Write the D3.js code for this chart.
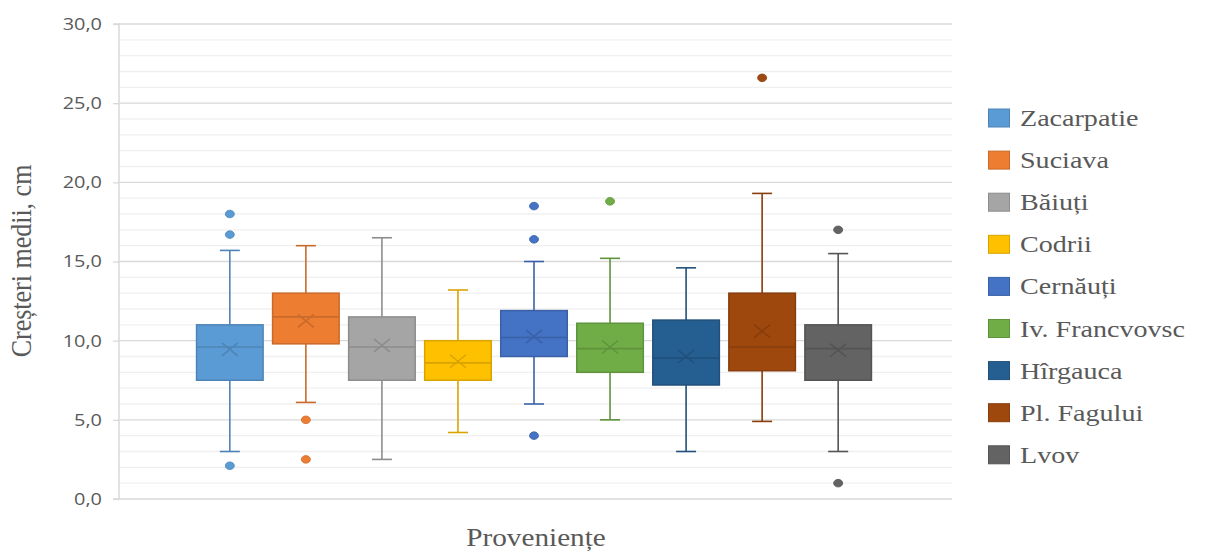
<!DOCTYPE html>
<html>
<head>
<meta charset="utf-8">
<script src="https://cdn.jsdelivr.net/npm/d3@7"></script>
<style>
  body { margin: 0; background: #fff; }
  svg { display: block; }
</style>
</head>
<body>
<div id="wrapper"></div>
<script>
// 1. Data
const series = ['Zacarpatie', 'Suciava', 'Băiuți', 'Codrii', 'Cernăuți',
    'Iv. Francvovsc', 'Hîrgauca', 'Pl. Fagului', 'Lvov'];
const colors = ['#5B9BD5', '#ED7D31', '#A5A5A5', '#FFC000', '#4472C4',
    '#70AD47', '#255E91', '#9E480E', '#636363'];
const whiskerLow = [3.0, 6.1, 2.5, 4.2, 6.0, 5.0, 3.0, 4.9, 3.0];
const q1 = [7.5, 9.8, 7.5, 7.5, 9.0, 8.0, 7.2, 8.1, 7.5];
const median = [9.6, 11.5, 9.6, 8.6, 10.2, 9.5, 8.9, 9.6, 9.5];
const q3 = [11.0, 13.0, 11.5, 10.0, 11.9, 11.1, 11.3, 13.0, 11.0];
const whiskerHigh = [15.7, 16.0, 16.5, 13.2, 15.0, 15.2, 14.6, 19.3, 15.5];
const mean = [9.45, 11.25, 9.7, 8.7, 10.25, 9.6, 9.0, 10.6, 9.4];
const outliers = [[18.0, 16.7, 2.1], [5.0, 2.5], [], [], [18.5, 16.4, 4.0],
    [18.8], [], [26.6], [17.0, 1.0]];
const yTicks = [0, 5, 10, 15, 20, 25, 30];

// 2. Dimensions
const dimensions = {
    width: 1212,
    height: 555,
    margin: { top: 24, right: 260, bottom: 56, left: 119 }
};
dimensions.boundedWidth = dimensions.width - dimensions.margin.left - dimensions.margin.right;
dimensions.boundedHeight = dimensions.height - dimensions.margin.top - dimensions.margin.bottom;
// the picture is a bit wider than tall, so text is stretched sideways
const stretch = 1.17;

// 3. Canvas
const wrapper = d3.select('#wrapper')
    .append('svg')
    .attr('width', dimensions.width)
    .attr('height', dimensions.height);
const bounds = wrapper.append('g')
    .attr('transform', `translate(${dimensions.margin.left},${dimensions.margin.top})`);

// 4. Scales
const yScale = d3.scaleLinear()
    .domain([0, 30])
    .range([dimensions.boundedHeight, 0]);
const xScale = d3.scaleBand()
    .domain(series)
    .range([73, 757])
    .paddingInner(0.105)
    .paddingOuter(0.05);
const colorScale = d3.scaleOrdinal().domain(series).range(colors);
const edge = s => d3.color(colorScale(s)).darker(0.45).formatHex();

// 5. Gridlines
bounds.append('g')
    .selectAll('line')
    .data(d3.range(1, 31).filter(v => v % 5 !== 0))
    .join('line')
    .attr('x1', 0).attr('x2', dimensions.boundedWidth)
    .attr('y1', d => yScale(d)).attr('y2', d => yScale(d))
    .attr('stroke', '#f0f0f0').attr('stroke-width', 1.3);
bounds.append('g')
    .selectAll('line')
    .data(yTicks.filter(v => v > 0))
    .join('line')
    .attr('x1', 0).attr('x2', dimensions.boundedWidth)
    .attr('y1', d => yScale(d)).attr('y2', d => yScale(d))
    .attr('stroke', '#d9d9d9').attr('stroke-width', 1.4);

// y axis
const yAxis = bounds.append('g')
    .call(d3.axisLeft(yScale).tickValues(yTicks).tickSize(6).tickPadding(11)
        .tickFormat(d => d3.format('.1f')(d).replace('.', ',')));
yAxis.select('.domain').attr('stroke', '#d9d9d9').attr('stroke-width', 1.5)
    .attr('d', `M-6,0H0V${dimensions.boundedHeight}`);
yAxis.selectAll('.tick line').attr('stroke', '#d9d9d9').attr('stroke-width', 1.3);
yAxis.selectAll('.tick text')
    .attr('x', -17 / stretch)
    .attr('transform', `scale(${stretch},1)`)
    .attr('fill', '#595959')
    .style('font-family', '"Open Sans", sans-serif')
    .style('font-size', '17px');

// x axis baseline
bounds.append('line')
    .attr('x1', -6).attr('x2', dimensions.boundedWidth)
    .attr('y1', yScale(0)).attr('y2', yScale(0))
    .attr('stroke', '#d9d9d9').attr('stroke-width', 1.5);

// 6. Boxes
const data = series.map((s, i) => ({
    s, lo: whiskerLow[i], q1: q1[i], med: median[i], q3: q3[i],
    hi: whiskerHigh[i], mean: mean[i], out: outliers[i]
}));
const boxes = bounds.selectAll('.box')
    .data(data)
    .join('g')
    .attr('class', 'box')
    .attr('transform', d => `translate(${xScale(d.s)},0)`);
const bw = xScale.bandwidth();
const cx = bw / 2;

boxes.append('line')
    .attr('x1', cx).attr('x2', cx)
    .attr('y1', d => yScale(d.hi)).attr('y2', d => yScale(d.lo))
    .attr('stroke', d => edge(d.s)).attr('stroke-width', 1.6);
boxes.selectAll('.cap')
    .data(d => [d.lo, d.hi].map(v => ({ v, s: d.s })))
    .join('line')
    .attr('x1', cx - 10).attr('x2', cx + 10)
    .attr('y1', d => yScale(d.v)).attr('y2', d => yScale(d.v))
    .attr('stroke', d => edge(d.s)).attr('stroke-width', 1.6);
boxes.append('rect')
    .attr('x', 0.75).attr('width', bw - 1.5)
    .attr('y', d => yScale(d.q3))
    .attr('height', d => yScale(d.q1) - yScale(d.q3))
    .attr('fill', d => colorScale(d.s))
    .attr('stroke', d => edge(d.s)).attr('stroke-width', 1.5);
boxes.append('line')
    .attr('x1', 0.75).attr('x2', bw - 0.75)
    .attr('y1', d => yScale(d.med)).attr('y2', d => yScale(d.med))
    .attr('stroke', d => edge(d.s)).attr('stroke-width', 1.6);
boxes.append('path')
    .attr('d', d => {
        const y = yScale(d.mean);
        return `M${cx - 8},${y - 6.5}L${cx + 8},${y + 6.5}M${cx - 8},${y + 6.5}L${cx + 8},${y - 6.5}`;
    })
    .attr('stroke', d => edge(d.s)).attr('stroke-width', 1.6).attr('fill', 'none');
boxes.selectAll('.out')
    .data(d => d.out.map(v => ({ v, s: d.s })))
    .join('ellipse')
    .attr('cx', cx)
    .attr('cy', d => yScale(d.v))
    .attr('rx', 4.5).attr('ry', 3.8)
    .attr('fill', d => colorScale(d.s))
    .attr('stroke', d => edge(d.s)).attr('stroke-width', 0.8);

// 7. Titles
const serif = '"Liberation Serif", "Times New Roman", serif';
wrapper.append('text')
    .attr('transform', `translate(31,${dimensions.margin.top + 237}) rotate(-90) scale(1,${stretch})`)
    .attr('text-anchor', 'middle')
    .attr('fill', '#595959')
    .style('font-family', serif)
    .style('font-size', '26px')
    .text('Creșteri medii, cm');
wrapper.append('text')
    .attr('transform', `translate(536,546) scale(${stretch},1)`)
    .attr('text-anchor', 'middle')
    .attr('fill', '#595959')
    .style('font-family', serif)
    .style('font-size', '25px')
    .text('Proveniențe');

// Legend
const legend = wrapper.append('g')
    .attr('transform', 'translate(988,118)');
const items = legend.selectAll('g')
    .data(series)
    .join('g')
    .attr('transform', (d, i) => `translate(0,${i * 42.1})`);
items.append('rect')
    .attr('x', 0.5).attr('y', -9)
    .attr('width', 21).attr('height', 18)
    .attr('fill', d => colorScale(d))
    .attr('stroke', d => edge(d)).attr('stroke-width', 1);
items.append('text')
    .attr('transform', `translate(32,8) scale(${stretch},1)`)
    .attr('fill', '#595959')
    .style('font-family', serif)
    .style('font-size', '24px')
    .text(d => d);
</script>
</body>
</html>
